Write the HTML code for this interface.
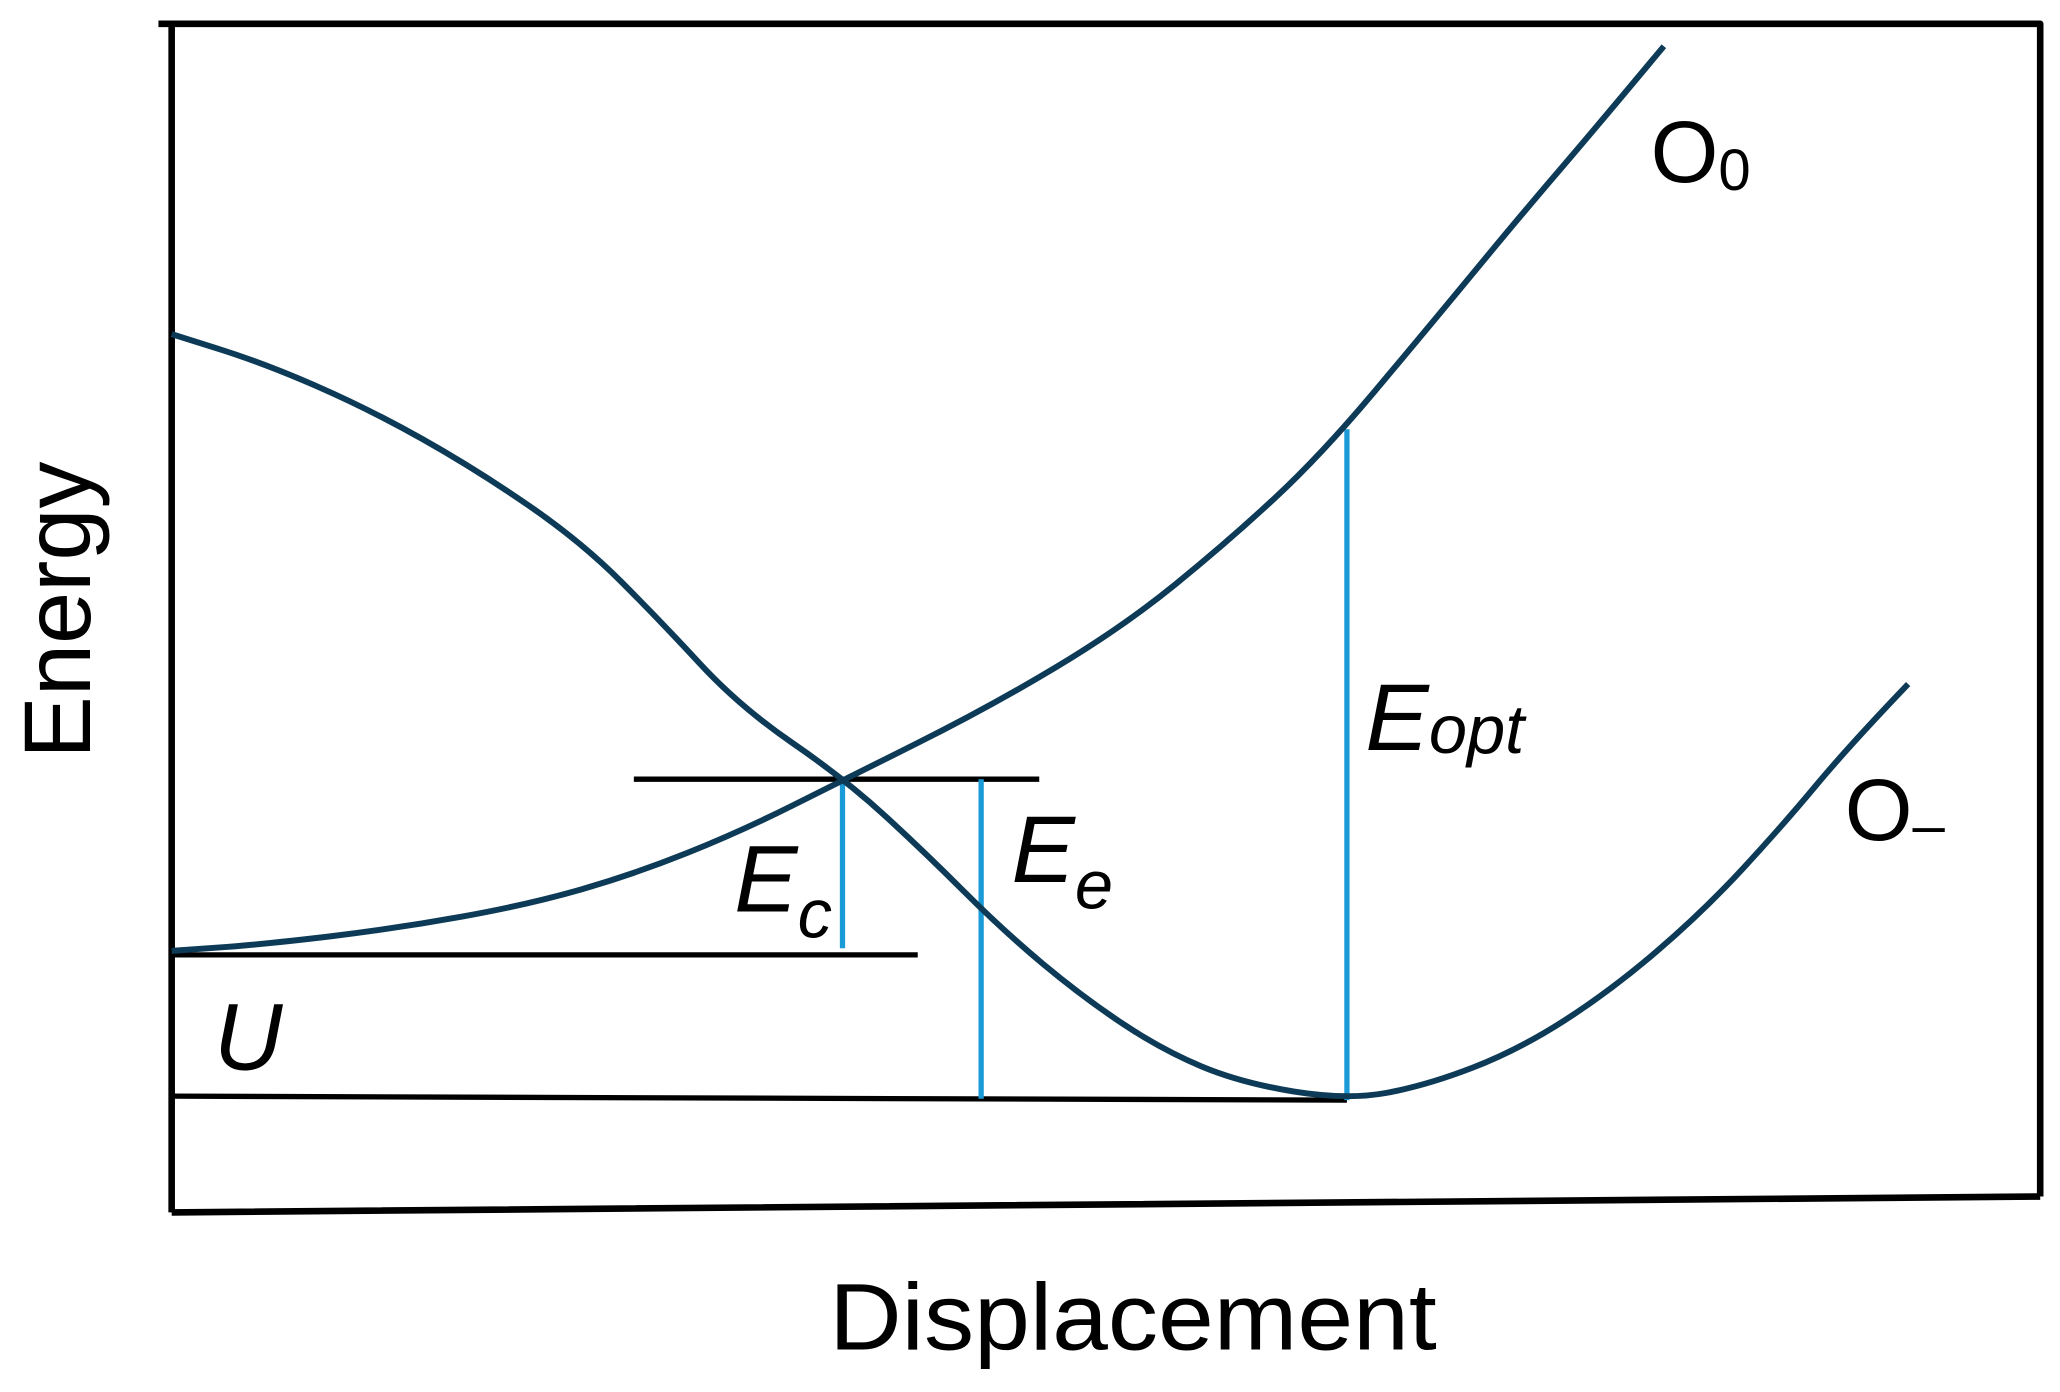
<!DOCTYPE html>
<html><head><meta charset="utf-8"><style>html,body{margin:0;padding:0;background:#fff}svg{display:block}</style></head>
<body>
<svg width="2060" height="1392" viewBox="0 0 1560 1054" preserveAspectRatio="none" xmlns="http://www.w3.org/2000/svg">
<g fill="none" stroke-linejoin="round">
<path d="M120 18 L1545 18 L1545 906 M130 18 L130 918 M130 918 L1545 906" stroke="#000" stroke-width="5"/>
<path d="M480 590 L787 590 M130 723 L695 723 M130 830 L1020 833" stroke="#000" stroke-width="4"/>
<path d="M638 592 L638 718 M743 590 L743 832 M1020 325 L1020 833" stroke="#1a9ad6" stroke-width="4"/>
<path d="M130,720 L165,717.5 Q200,715 250,709 Q300,703 350,694 Q400,685 440,673.5 Q480,662 520,646 Q560,630 600,610 Q640,590 695,562.5 Q750,535 800,505 Q850,475 890,442.5 Q930,410 965,377.5 Q1000,345 1040,297.5 Q1080,250 1115,207.5 Q1150,165 1180,130 Q1210,95 1260,35" stroke="#0d3b57" stroke-width="4.5"/>
<path d="M130,253 L165,264 Q200,275 240,292.5 Q280,310 320,332.5 Q360,355 400,382.5 Q440,410 470,440 Q500,470 530,502.5 Q560,535 600,562.5 Q640,590 670,617.5 Q700,645 730,675 Q760,705 790,730 Q820,755 850,775 Q880,795 910,807.5 Q940,820 980,826.5 Q1020,833 1050,827.5 Q1080,822 1115,808.5 Q1150,795 1185,772.5 Q1220,750 1255,720 Q1290,690 1320,657.5 Q1350,625 1375,595 Q1400,565 1445,518" stroke="#0d3b57" stroke-width="4.5"/>
</g>
<g font-family="Liberation Sans, sans-serif" fill="#000">
<text transform="translate(68 462) rotate(-90)" text-anchor="middle" font-size="72" textLength="225" lengthAdjust="spacingAndGlyphs">Energy</text>
<text x="858" y="1022" text-anchor="middle" font-size="72" textLength="460" lengthAdjust="spacingAndGlyphs">Displacement</text>
<text x="1250" y="138" font-size="66">O<tspan font-size="44" dy="6">0</tspan></text>
<text x="1397" y="636" font-size="66">O<tspan font-size="44" dy="4">–</tspan></text>
<g font-style="italic">
<text x="556" y="690" font-size="72">E<tspan font-size="52" dy="20">c</tspan></text>
<text x="766" y="668" font-size="72">E<tspan font-size="52" dy="20">e</tspan></text>
<text x="1034" y="568" font-size="72">E<tspan font-size="52" dy="2">opt</tspan></text>
<text x="162" y="810" font-size="72">U</text>
</g>
</g>
</svg>
</body></html>
